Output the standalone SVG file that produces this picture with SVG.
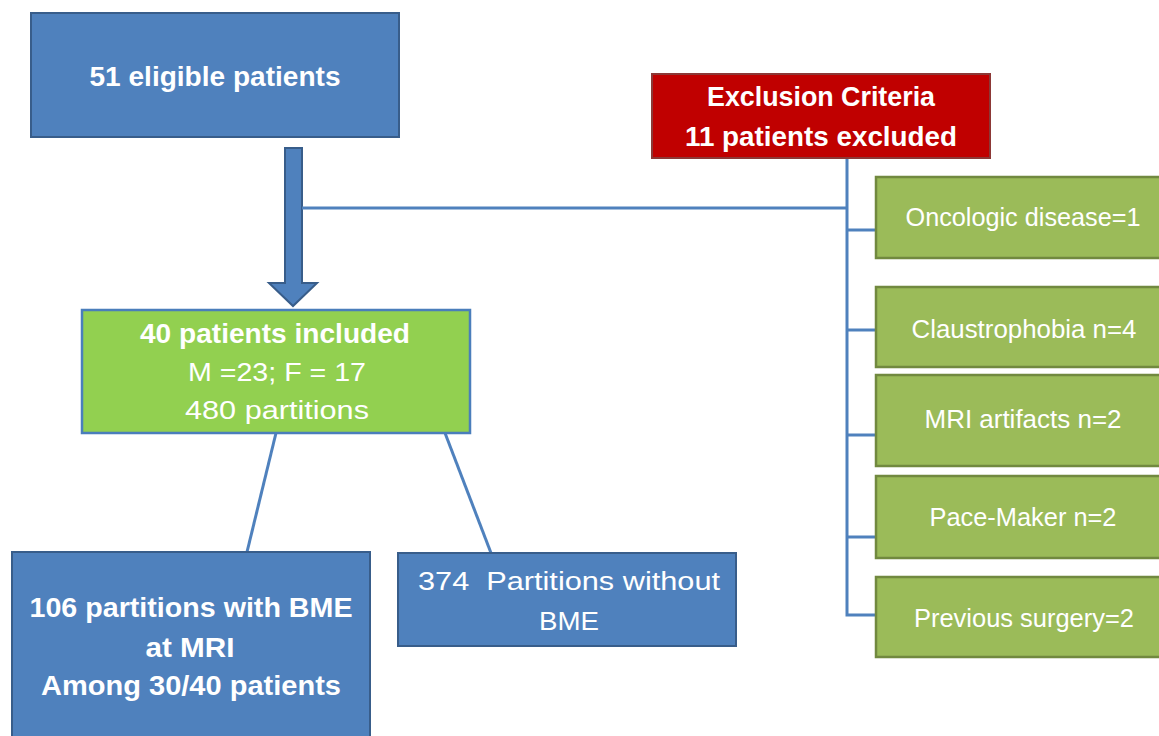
<svg xmlns="http://www.w3.org/2000/svg" width="1159" height="736" viewBox="0 0 1159 736">
<style>
.blue{fill:#4F81BD;stroke:#385D8A;stroke-width:2}
.red{fill:#C00000;stroke:#8C3836;stroke-width:2}
.lgreen{fill:#92D050;stroke:#4A7EBB;stroke-width:2.5}
.ogreen{fill:#9BBB59;stroke:#71893F;stroke-width:2.5}
.conn{fill:none;stroke:#4F81BD;stroke-width:3}
text{font-family:"Liberation Sans",Arial,sans-serif;fill:#FFFFFF;text-anchor:middle}
.b{font-weight:bold;font-size:28px}
.r{font-size:25px}
</style>
<rect width="1159" height="736" fill="#FFFFFF"/>
<g id="connectors">
<polygon points="285,148 302,148 302,283 317,283 293,306 269,283 285,283" fill="#4F81BD" stroke="#385D8A" stroke-width="2"/>
<path class="conn" d="M302,208 H847"/>
<path class="conn" d="M847,158 V615 H876"/>
<path class="conn" d="M847,230 H876"/>
<path class="conn" d="M847,330 H876"/>
<path class="conn" d="M847,435 H876"/>
<path class="conn" d="M847,537 H876"/>
<path class="conn" d="M276,433 L247,552"/>
<path class="conn" d="M445,433 L491,553"/>
</g>
<g id="eligible">
<rect class="blue" x="31" y="13" width="368" height="124"/>
<text class="b" x="215" y="86" textLength="251" lengthAdjust="spacingAndGlyphs">51 eligible patients</text>
</g>
<g id="exclusion">
<rect class="red" x="652" y="74" width="338" height="84"/>
<text class="b" x="821" y="106" textLength="228" lengthAdjust="spacingAndGlyphs">Exclusion Criteria</text>
<text class="b" x="821" y="146" textLength="272" lengthAdjust="spacingAndGlyphs">11 patients excluded</text>
</g>
<g id="included">
<rect class="lgreen" x="82" y="310" width="388" height="123"/>
<text class="b" x="275" y="343" textLength="270" lengthAdjust="spacingAndGlyphs">40 patients included</text>
<text class="r" x="277" y="381" textLength="178" lengthAdjust="spacingAndGlyphs">M =23; F = 17</text>
<text class="r" x="277" y="419" textLength="184" lengthAdjust="spacingAndGlyphs">480 partitions</text>
</g>
<g id="withBME">
<rect class="blue" x="12" y="552" width="358" height="200"/>
<text class="b" x="191" y="617" textLength="323" lengthAdjust="spacingAndGlyphs">106 partitions with BME</text>
<text class="b" x="190" y="657" textLength="89" lengthAdjust="spacingAndGlyphs">at MRI</text>
<text class="b" x="191" y="695" textLength="300" lengthAdjust="spacingAndGlyphs">Among 30/40 patients</text>
</g>
<g id="withoutBME">
<rect class="blue" x="398" y="553" width="338" height="93"/>
<text class="r" x="569" y="590" textLength="302" lengthAdjust="spacingAndGlyphs" xml:space="preserve">374  Partitions without</text>
<text class="r" x="569" y="630" textLength="60" lengthAdjust="spacingAndGlyphs">BME</text>
</g>
<g id="oncologic">
<rect class="ogreen" x="876" y="177" width="295" height="81"/>
<text class="r" x="1023" y="226" textLength="235" lengthAdjust="spacingAndGlyphs">Oncologic disease=1</text>
</g>
<g id="claustrophobia">
<rect class="ogreen" x="876" y="287" width="295" height="80"/>
<text class="r" x="1024" y="338" textLength="225" lengthAdjust="spacingAndGlyphs">Claustrophobia n=4</text>
</g>
<g id="mri">
<rect class="ogreen" x="876" y="375" width="295" height="91"/>
<text class="r" x="1023" y="428" textLength="197" lengthAdjust="spacingAndGlyphs">MRI artifacts n=2</text>
</g>
<g id="pacemaker">
<rect class="ogreen" x="876" y="476" width="295" height="82"/>
<text class="r" x="1023" y="526" textLength="187" lengthAdjust="spacingAndGlyphs">Pace-Maker n=2</text>
</g>
<g id="surgery">
<rect class="ogreen" x="876" y="577" width="295" height="80"/>
<text class="r" x="1024" y="627" textLength="220" lengthAdjust="spacingAndGlyphs">Previous surgery=2</text>
</g>
</svg>
